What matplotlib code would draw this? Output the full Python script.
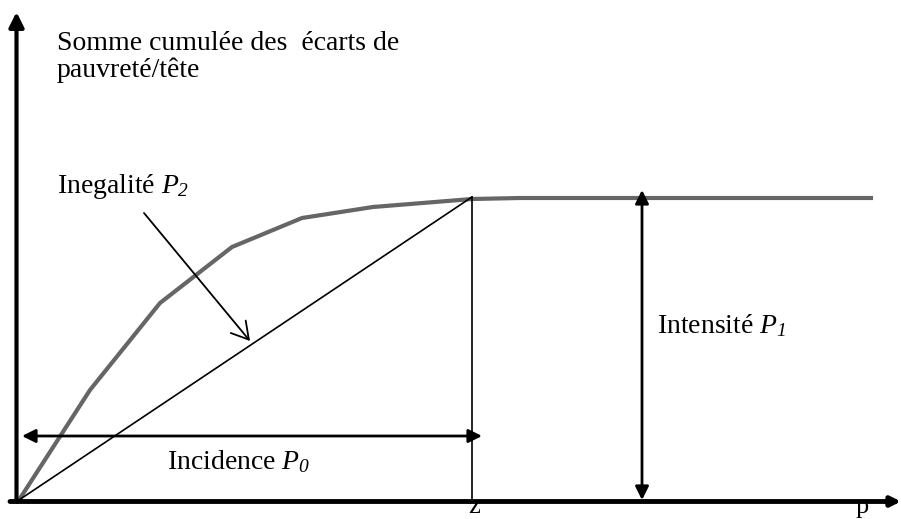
import matplotlib
matplotlib.use("Agg")
import matplotlib.pyplot as plt

# Data (units: p along x, cumulative poverty gap along y)
curve_p = [0, 71, 141, 213, 283, 354, 453, 501, 852]
curve_y = [0, 110, 197, 253, 282, 293, 301, 302, 302]
z = 453
z_top = 303
intens_x = 623
intens_y = [0, 310]
incid_y = 64
incid_x = [3, 463]
ineg_start = (125, 287)
ineg_end = (231, 159)

title_lines = ["Somme cumulée des  écarts de", "pauvreté/tête"]
lbl_ineg = r"Inegalité $P_{\mathsf{2}}$"
lbl_intens = r"Intensité $P_{\mathsf{1}}$"
lbl_incid = r"Incidence $P_{\mathsf{0}}$"

plt.rcParams['font.family'] = ['Liberation Serif', 'DejaVu Serif']
plt.rcParams['mathtext.fontset'] = 'custom'
plt.rcParams['mathtext.it'] = 'Liberation Serif:italic'
plt.rcParams['mathtext.sf'] = 'Liberation Serif:italic'
plt.rcParams['mathtext.rm'] = 'Liberation Serif'

fig = plt.figure(figsize=(9.01, 5.19), dpi=100)
ax = fig.add_axes([0, 0, 1, 1])
ax.set_xlim(-19, 882)
ax.set_ylim(-19, 500)
ax.axis('off')

# axes with arrows
ax.annotate("", xy=(-2.5, 488), xytext=(-2.5, -2),
            arrowprops=dict(arrowstyle='-|>', lw=3, color='black',
                            mutation_scale=22, shrinkA=0, shrinkB=0))
ax.annotate("", xy=(882, -1.5), xytext=(-9, -1.5),
            arrowprops=dict(arrowstyle='-|>', lw=3.5, color='black',
                            mutation_scale=14, shrinkA=0, shrinkB=0))

# curve
ax.plot(curve_p, curve_y, color='#666666', lw=3, solid_joinstyle='miter')
# diagonal and z vertical
ax.plot([0, z], [0, z_top], color='black', lw=1.2)
ax.plot([z, z], [0, z_top], color='black', lw=1.2)

# Intensité double arrow
ax.annotate("", xy=(intens_x, intens_y[1]), xytext=(intens_x, intens_y[0]),
            arrowprops=dict(arrowstyle='<|-|>', lw=2, color='black',
                            mutation_scale=20, shrinkA=0, shrinkB=0))
# Incidence double arrow
ax.annotate("", xy=(incid_x[1], incid_y), xytext=(incid_x[0], incid_y),
            arrowprops=dict(arrowstyle='<|-|>', lw=2, color='black',
                            mutation_scale=20, shrinkA=0, shrinkB=0))
# Inegalité arrow
ax.annotate("", xy=ineg_end, xytext=ineg_start,
            arrowprops=dict(arrowstyle='->,head_length=0.6,head_width=0.35', lw=1.3,
                            color='black', mutation_scale=20, shrinkA=0, shrinkB=0))

fs = 20
ax.text(38, 450, title_lines[0], fontsize=fs, va='baseline', ha='left')
ax.text(38, 423, title_lines[1], fontsize=fs, va='baseline', ha='left')
ax.text(38, 307, lbl_ineg, fontsize=fs, va='baseline', ha='left')
ax.text(638, 167, lbl_intens, fontsize=fs, va='baseline', ha='left')
ax.text(148, 31, lbl_incid, fontsize=fs, va='baseline', ha='left')
ax.text(z + 2, -13, "z", fontsize=19, va='baseline', ha='center')
ax.text(843, -13, "p", fontsize=19, va='baseline', ha='center')

fig.savefig("out.png", dpi=100)
